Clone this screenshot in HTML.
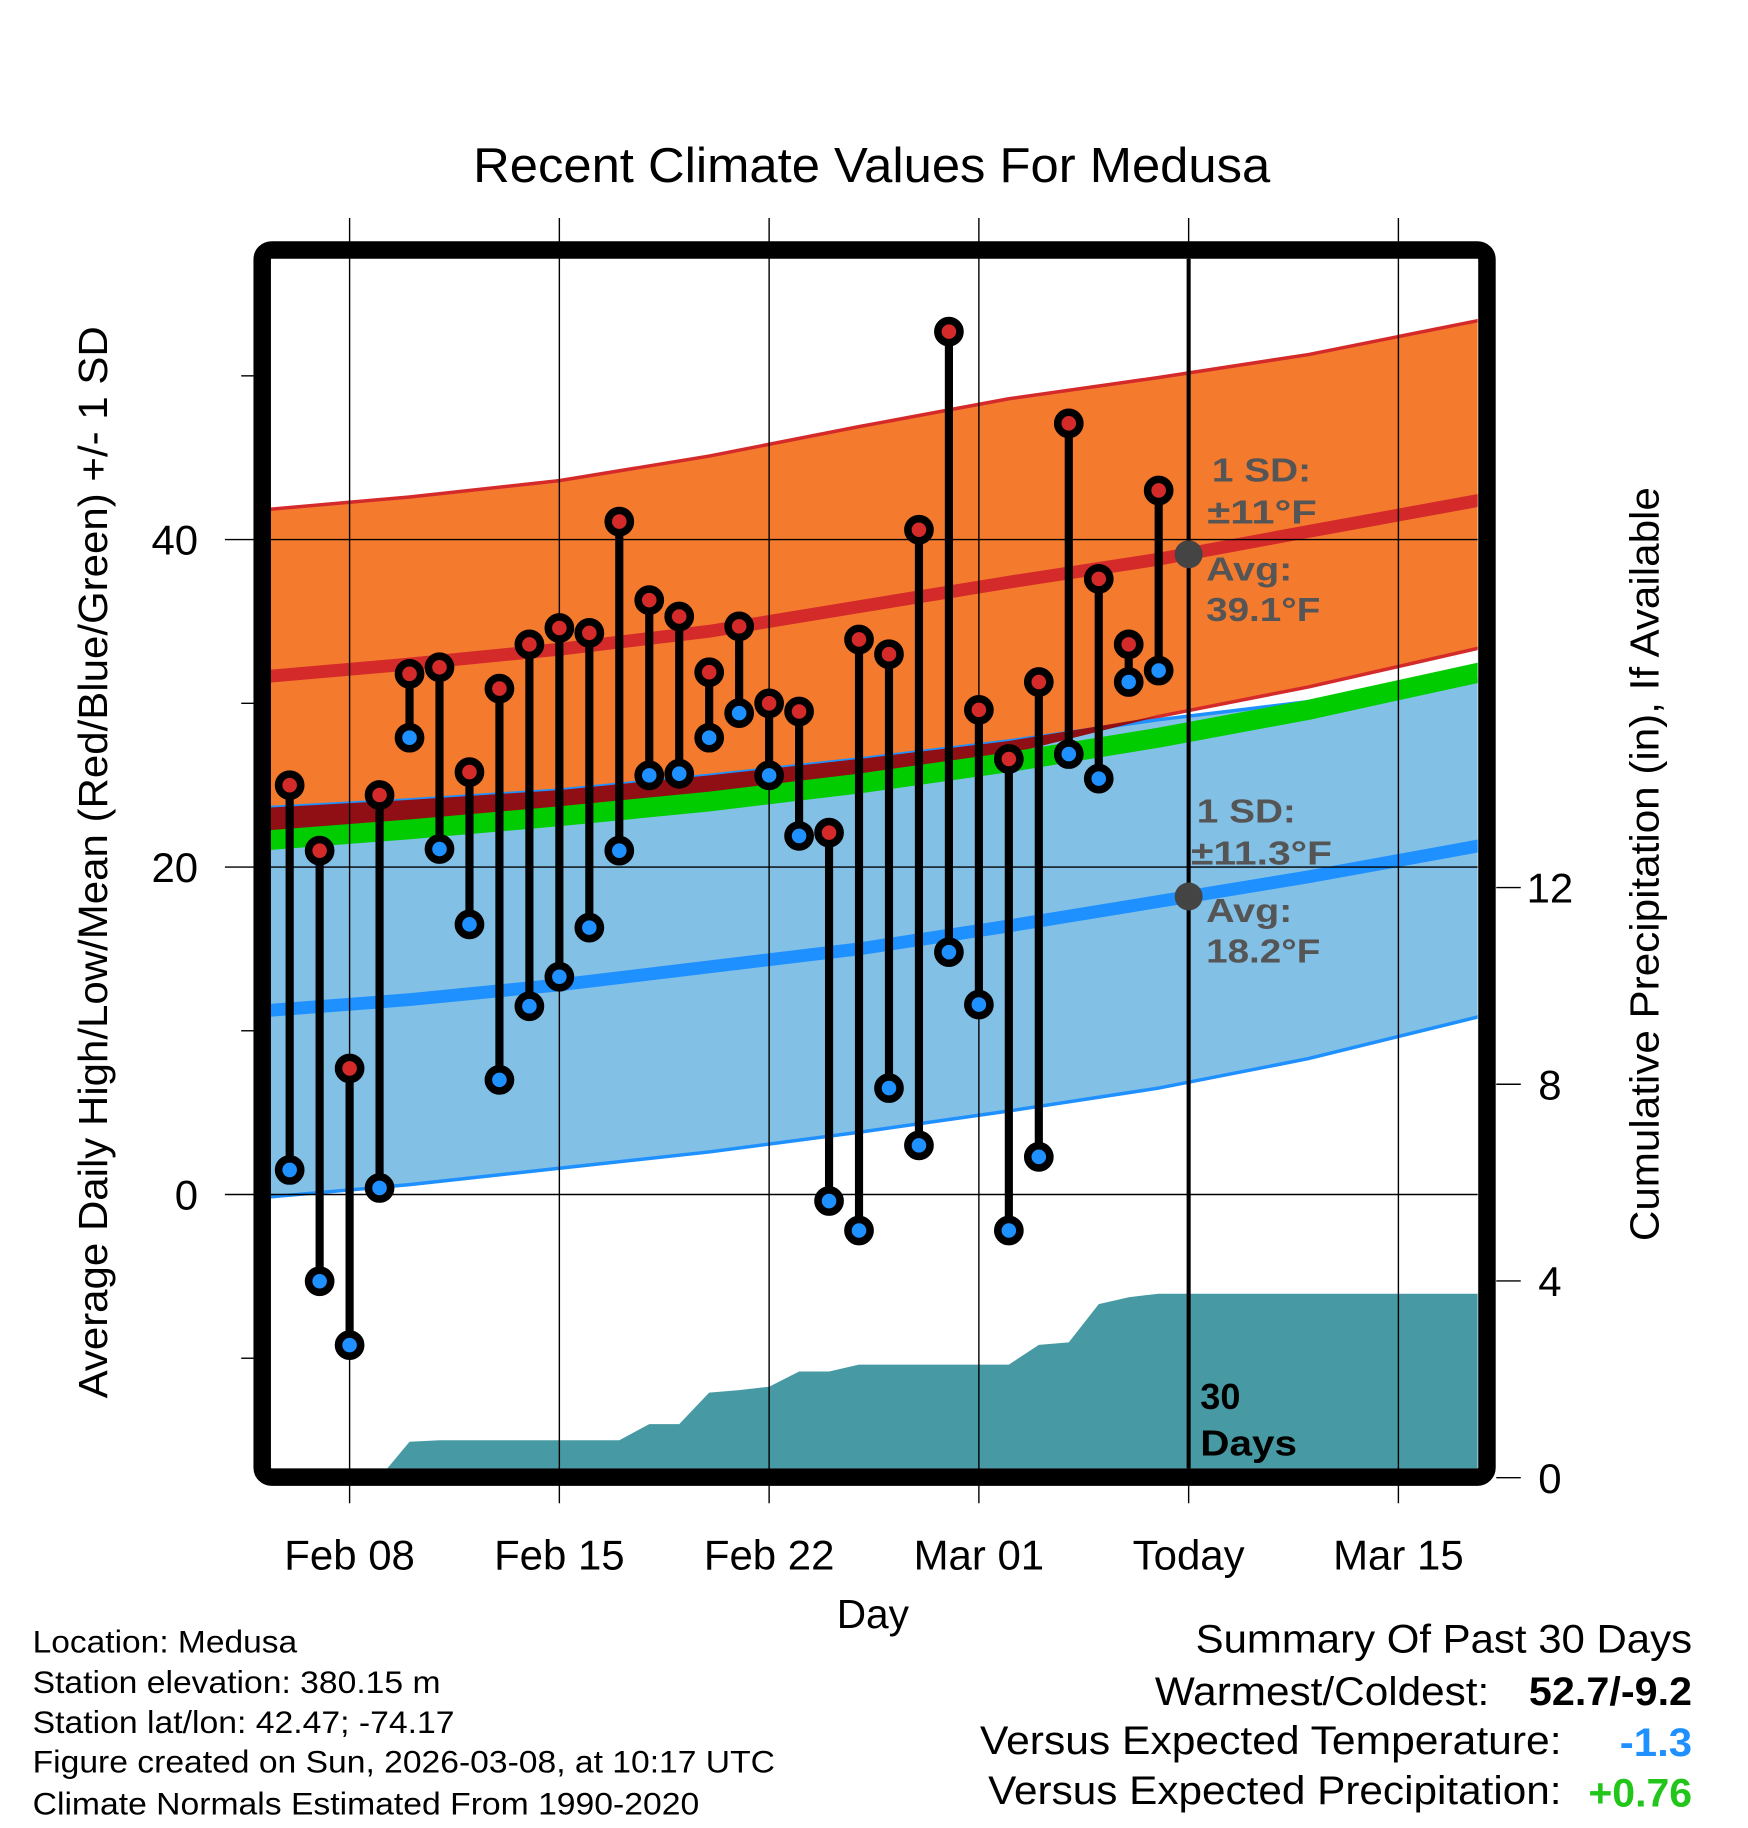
<!DOCTYPE html>
<html><head><meta charset="utf-8"><style>
html,body{margin:0;padding:0;background:#fff;}
svg{display:block;font-family:"Liberation Sans",Arial,sans-serif;}
</style></head><body>
<svg id="chart" width="1748" height="1828" viewBox="0 0 1500 1568.6" xmlns="http://www.w3.org/2000/svg">
<rect x="0" y="0" width="1500" height="1568.6" fill="#fff"/>
<g id="bands"></g>
<g id="grid"></g>
<g id="marks"></g>
<g id="frame"></g>
<text x="406" y="156" font-size="42" textLength="684" lengthAdjust="spacingAndGlyphs">Recent Climate Values For Medusa</text>
<text transform="translate(92,1200) rotate(-90)" font-size="35" textLength="920" lengthAdjust="spacingAndGlyphs">Average Daily High/Low/Mean (Red/Blue/Green) +/- 1 SD</text>
<text transform="translate(1423,1065) rotate(-90)" font-size="35" textLength="647" lengthAdjust="spacingAndGlyphs">Cumulative Precipitation (in), If Available</text>
<text x="718" y="1397" font-size="35" textLength="62" lengthAdjust="spacingAndGlyphs">Day</text>
<g font-size="29" font-weight="bold" fill="#555">
<text x="1040" y="413" textLength="85" lengthAdjust="spacingAndGlyphs">1 SD:</text>
<text x="1036" y="449" textLength="94" lengthAdjust="spacingAndGlyphs">±11°F</text>
<text x="1035" y="498" textLength="74" lengthAdjust="spacingAndGlyphs">Avg:</text>
<text x="1035" y="533" textLength="98" lengthAdjust="spacingAndGlyphs">39.1°F</text>
</g>
<g font-size="29" font-weight="bold" fill="#555">
<text x="1027" y="706" textLength="85" lengthAdjust="spacingAndGlyphs">1 SD:</text>
<text x="1022" y="742" textLength="121" lengthAdjust="spacingAndGlyphs">±11.3°F</text>
<text x="1035" y="791" textLength="74" lengthAdjust="spacingAndGlyphs">Avg:</text>
<text x="1035" y="826" textLength="98" lengthAdjust="spacingAndGlyphs">18.2°F</text>
</g>
<text x="1030" y="1209" font-size="31" font-weight="bold">30</text>
<text x="1030" y="1249" font-size="31" font-weight="bold" textLength="83" lengthAdjust="spacingAndGlyphs">Days</text>
<g font-size="27">
<text x="28" y="1418" textLength="227" lengthAdjust="spacingAndGlyphs">Location: Medusa</text>
<text x="28" y="1453" textLength="350" lengthAdjust="spacingAndGlyphs">Station elevation: 380.15 m</text>
<text x="28" y="1487" textLength="362" lengthAdjust="spacingAndGlyphs">Station lat/lon: 42.47; -74.17</text>
<text x="28" y="1521" textLength="637" lengthAdjust="spacingAndGlyphs">Figure created on Sun, 2026-03-08, at 10:17 UTC</text>
<text x="28" y="1557" textLength="572" lengthAdjust="spacingAndGlyphs">Climate Normals Estimated From 1990-2020</text>
</g>
<g font-size="34">
<text x="1026" y="1418" textLength="426" lengthAdjust="spacingAndGlyphs">Summary Of Past 30 Days</text>
<text x="991" y="1463" textLength="287" lengthAdjust="spacingAndGlyphs">Warmest/Coldest:</text>
<text x="1312" y="1463" font-weight="bold" textLength="140" lengthAdjust="spacingAndGlyphs">52.7/-9.2</text>
<text x="841" y="1505" textLength="499" lengthAdjust="spacingAndGlyphs">Versus Expected Temperature:</text>
<text x="1390" y="1507" font-weight="bold" fill="#1e90ff" textLength="62" lengthAdjust="spacingAndGlyphs">-1.3</text>
<text x="848" y="1548" textLength="492" lengthAdjust="spacingAndGlyphs">Versus Expected Precipitation:</text>
<text x="1363" y="1550" font-weight="bold" fill="#22c51a" textLength="89" lengthAdjust="spacingAndGlyphs">+0.76</text>
</g>
</svg>
<script>
const days = [-2,-1,0,1,2,3,4,5,6,7,8,9,10,11,12,13,14,15,16,17,18,19,20,21,22,23,24,25,26,27];
const highs = [25,21,7.7,24.4,31.8,32.2,25.8,30.9,33.6,34.6,34.3,41.1,36.3,35.3,31.9,34.7,30.0,29.5,22.1,33.9,33.0,40.6,52.7,29.6,26.6,31.3,47.1,37.6,33.6,43.0];
const lows = [1.5,-5.3,-9.2,0.4,27.9,21.1,16.5,7,11.5,13.3,16.3,21,25.6,25.7,27.9,29.4,25.6,21.9,-0.4,-2.2,6.5,3.0,14.8,11.6,-2.2,2.3,26.9,25.4,31.3,32.0];
const precip = [0,0,0,0,0.73,0.76,0.76,0.76,0.76,0.76,0.76,0.76,1.09,1.09,1.73,1.78,1.85,2.16,2.16,2.30,2.30,2.30,2.30,2.30,2.30,2.70,2.75,3.53,3.67,3.74];
const normDays = [-3,2,7,12,17,22,27,32,38];
const highAvg = [31.6,32.4,33.3,34.4,35.9,37.4,38.8,40.5,42.5];
const highUpper = [41.8,42.6,43.6,45.1,46.9,48.6,49.9,51.3,53.5];
const highLower = [21.8,22.5,23.3,24.3,25.5,26.9,29.2,31.0,33.5];
const lowUpper = [23.6,24.1,24.7,25.6,26.6,27.7,29.0,30.1,31.5];
const lowAvg = [11.2,11.9,12.8,13.9,15.0,16.4,17.9,19.4,21.4];
const lowLower = [-0.2,0.6,1.6,2.6,3.8,5.1,6.5,8.3,11.0];
const meanTemp = [21.6,22.3,23.1,24.0,25.1,26.4,27.9,29.6,32.0];
const xTickDays = [0,7,14,21,28,35];
const xTickLabels = ["Feb 08","Feb 15","Feb 22","Mar 01","Today","Mar 15"];
const yTicks = [0,20,40];
const yMinor = [-10,10,30,50];
const pTicks = [0,4,8,12];

const NS="http://www.w3.org/2000/svg";
const X = d => 300 + d*180/7;
const Y = v => 1025 - v*14.05;
const P = v => 1268 - v*42.2;
const L=232,R=1268,T=222,B=1260;
function mk(parent,tag,attrs){const e=document.createElementNS(NS,tag);for(const k in attrs)e.setAttribute(k,attrs[k]);document.getElementById(parent).appendChild(e);return e;}
function pts(arr){return normDays.map((d,i)=>X(d)+','+Y(arr[i]));}
function band(up,lo){return pts(up).concat(pts(lo).reverse()).join(' ');}

const defs=mk('bands','defs',{});
const cp=document.createElementNS(NS,'clipPath');cp.setAttribute('id','plotclip');
const cr=document.createElementNS(NS,'rect');cr.setAttribute('x',L);cr.setAttribute('y',T);cr.setAttribute('width',R-L);cr.setAttribute('height',B-T);
cp.appendChild(cr);defs.appendChild(cp);
document.getElementById('bands').setAttribute('clip-path','url(#plotclip)');
document.getElementById('marks').setAttribute('clip-path','url(#plotclip)');

let e;
e=mk('bands','polygon',{points:band(highUpper,highLower),fill:'#f47a2e',stroke:'#d42a2a','stroke-width':3});


e=mk('bands','polygon',{points:band(lowUpper,lowLower),fill:'#82c0e6',stroke:'#1e90ff','stroke-width':3});


const ovUp=lowUpper.map((v,i)=>Math.max(v,highLower[i])), ovLo=highLower;
e=mk('bands','polygon',{points:band(ovUp,ovLo),fill:'#8f0f14'});


e=mk('bands','polyline',{points:pts(meanTemp).join(' '),fill:'none',stroke:'#00cc00','stroke-width':17});


e=mk('bands','polyline',{points:pts(highAvg).join(' '),fill:'none',stroke:'#d42a2a','stroke-width':11});


e=mk('bands','polyline',{points:pts(lowAvg).join(' '),fill:'none',stroke:'#1e90ff','stroke-width':11});


let pp=[X(-3)+','+P(0)];
days.forEach((d,i)=>pp.push(X(d)+','+P(precip[i])));
pp.push(X(38)+','+P(precip[precip.length-1]));pp.push(X(38)+','+P(0));
e=mk('bands','polygon',{points:pp.join(' '),fill:'#479aa3'});



xTickDays.forEach((d,i)=>{
  e=mk('grid','line',{x1:X(d),x2:X(d),y1:187,y2:1290,stroke:'#000','stroke-width':1.2});
  
  
  e=mk('grid','text',{x:X(d),y:1347,'font-size':36,'text-anchor':'middle'});
  e.textContent=xTickLabels[i];
  
  
});
yTicks.forEach(v=>{
  e=mk('grid','line',{x1:193,x2:R,y1:Y(v),y2:Y(v),stroke:'#000','stroke-width':1.2});
  
  
  e=mk('grid','text',{x:170,y:Y(v)+13,'font-size':36,'text-anchor':'end'});
  e.textContent=v;
  
  
});
yMinor.forEach(v=>{
  e=mk('grid','line',{x1:207,x2:220,y1:Y(v),y2:Y(v),stroke:'#000','stroke-width':1.2});
  
  
});
pTicks.forEach(v=>{
  e=mk('grid','line',{x1:1284,x2:1305,y1:P(v),y2:P(v),stroke:'#000','stroke-width':1.2});
  
  
  e=mk('grid','text',{x:1330,y:P(v)+13,'font-size':36,'text-anchor':'middle'});
  e.textContent=v;
  
  
});

e=mk('marks','line',{x1:X(28),x2:X(28),y1:T,y2:B,stroke:'#000','stroke-width':3.5});


days.forEach((d,i)=>{
  e=mk('marks','line',{x1:X(d),x2:X(d),y1:Y(highs[i]),y2:Y(lows[i]),stroke:'#000','stroke-width':7});
  
  
});
days.forEach((d,i)=>{
  e=mk('marks','circle',{cx:X(d),cy:Y(highs[i]),r:9.5,fill:'#d42a2a',stroke:'#000','stroke-width':6.5});
  
  
  e=mk('marks','circle',{cx:X(d),cy:Y(lows[i]),r:9.5,fill:'#1e90ff',stroke:'#000','stroke-width':6.5});
  
  
});
e=mk('marks','circle',{cx:X(28),cy:Y(39.1),r:12,fill:'#444'});


e=mk('marks','circle',{cx:X(28),cy:Y(18.2),r:12,fill:'#444'});



e=mk('frame','rect',{x:225,y:214.5,width:1051,height:1053,rx:8,fill:'none',stroke:'#000','stroke-width':15});


</script>
</body></html>
